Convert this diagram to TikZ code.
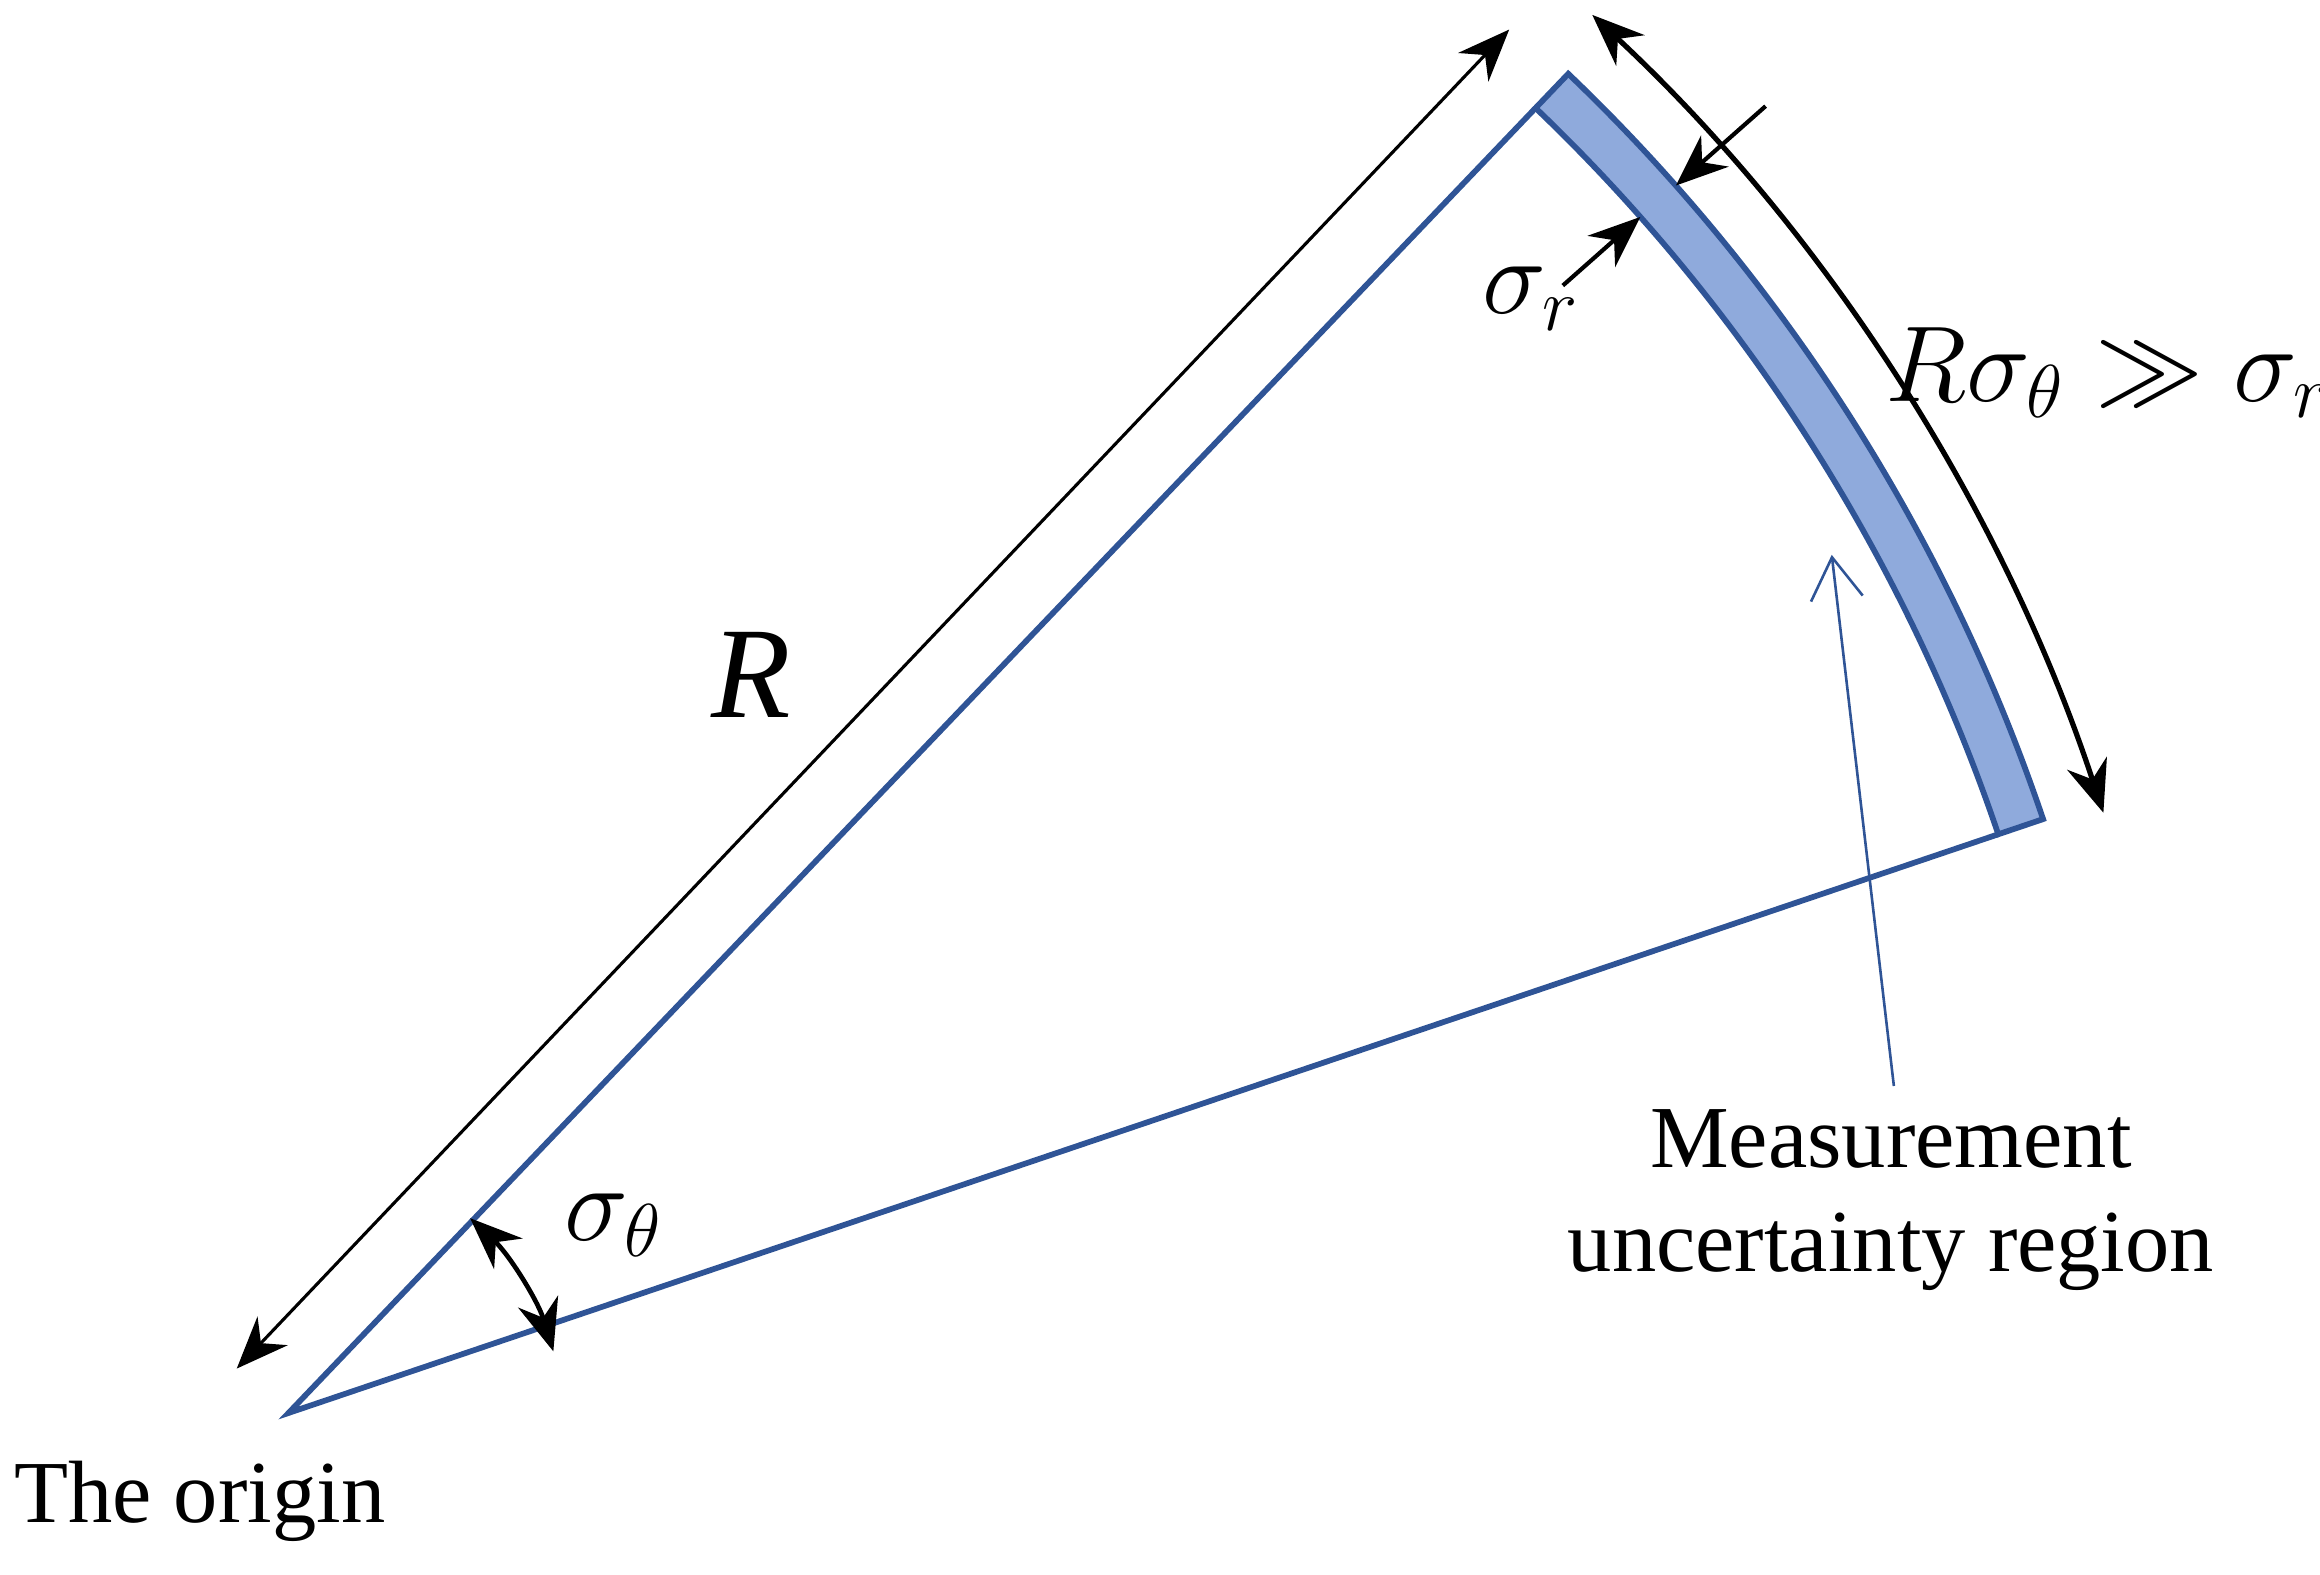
\documentclass[tikz,border=0pt]{standalone}
\usepackage{fontspec}
\setmainfont{Liberation Serif}
\usetikzlibrary{arrows.meta}
\definecolor{lb}{RGB}{47,84,150}
\definecolor{fb}{RGB}{143,170,220}
\begin{document}
\begin{tikzpicture}[x=0.01cm,y=0.01cm,
  dim/.style={black,line width=0.6pt,{Stealth[length=10pt,width=8pt]}-{Stealth[length=10pt,width=8pt]}},
  tk/.style={black,line width=0.8pt,-{Stealth[length=10pt,width=8pt]}},
  lbl/.style={font=\fontsize{17}{20}\selectfont}]
\useasboundingbox (0,0) rectangle (1568,1064);
\coordinate (O) at (195,109);
\begin{scope}[shift={(195,109)}]
  \coordinate (U) at (46.3:1220);
  \coordinate (L) at (18.7:1220);
  \filldraw[fill=fb,draw=lb,line width=1.1pt] (46.3:1220) arc[start angle=46.3,end angle=18.7,radius=1220] -- (18.7:1252) arc[start angle=18.7,end angle=46.3,radius=1252] -- cycle;
  \draw[lb,line width=1.1pt] (U) -- (O) -- (L);
  \coordinate (A1) at (47:1292);
  \draw[dim,line width=1pt] (A1) arc[start angle=47,end angle=18.3,radius=1292];
  \coordinate (S1) at (47:180);
  \draw[dim,line width=0.9pt] (S1) arc[start angle=47,end angle=17,radius=205];
  \coordinate (P1) at (41.5:1333); \coordinate (P2) at (41.5:1252);
  \coordinate (Q1) at (41.5:1150); \coordinate (Q2) at (41.5:1220);
  \draw[tk] (P1) -- (P2);
  \draw[tk] (Q1) -- (Q2);
\end{scope}
\coordinate (R1) at (160,139);
\coordinate (R2) at (1020,1044);
\draw[dim] (R1) -- (R2);
\node[font=\fontsize{25}{30}\selectfont\itshape] (Rl) at (508,608) {R};
\node[font=\fontsize{20}{24}\selectfont] (sr) at (1035,862) {$\sigma_r$};
\node[font=\fontsize{20}{24}\selectfont] (rs) at (1425,812) {$R\sigma_\theta \gg \sigma_r$};
\node[font=\fontsize{20}{24}\selectfont] (st) at (415,236) {$\sigma_\theta$};
\node[lbl,align=center] (mu) at (1278,253) {Measurement\\uncertainty region};
\coordinate (mt) at (1238,689);
\draw[lb,line width=0.5pt,-{Straight Barb[length=8pt,width=10pt]}] (1280,330) -- (mt);
\node[lbl] (or) at (135,49) {The origin};
\end{tikzpicture}
\end{document}
